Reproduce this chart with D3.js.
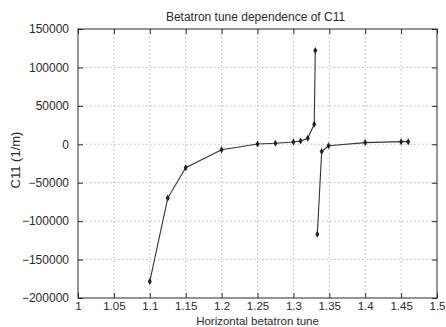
<!DOCTYPE html>
<html>
<head>
<meta charset="utf-8">
<script src="https://cdn.jsdelivr.net/npm/d3@7"></script>
<style>
  html, body { margin: 0; padding: 0; background: #fff; }
</style>
</head>
<body>
<div id="chart"></div>
<script>
// Two branches of the curve, either side of the resonance
const branchLeftX = [1.1, 1.125, 1.15, 1.2, 1.25, 1.275, 1.3, 1.31, 1.32, 1.329, 1.3305];
const branchLeftY = [-178500, -70000, -30500, -7000, 300, 1300, 3000, 4300, 7800, 26000, 122000];
const branchRightX = [1.3333, 1.3394, 1.349, 1.4, 1.45, 1.46];
const branchRightY = [-117000, -9500, -2000, 2200, 3400, 3400];

const xTicks = [1, 1.05, 1.1, 1.15, 1.2, 1.25, 1.3, 1.35, 1.4, 1.45, 1.5];
const yTicks = [-200000, -150000, -100000, -50000, 0, 50000, 100000, 150000];

const width = 446, height = 327;
const margin = { top: 29, right: 9, bottom: 29, left: 78 };
const innerW = width - margin.left - margin.right;
const innerH = height - margin.top - margin.bottom;

const svg = d3.select('#chart').append('svg')
    .attr('width', width)
    .attr('height', height)
    .style('font-family', 'Liberation Sans, Arial, sans-serif');

const x = d3.scaleLinear().domain([1, 1.5]).range([margin.left, margin.left + innerW]);
const y = d3.scaleLinear().domain([-200000, 150000]).range([margin.top + innerH, margin.top]);

const ink = '#2a2a2a';

// grid
svg.append('g').selectAll('line')
    .data(xTicks.slice(1, -1))
    .enter().append('line')
    .attr('x1', d => x(d)).attr('x2', d => x(d))
    .attr('y1', margin.top).attr('y2', margin.top + innerH)
    .attr('stroke', '#999').attr('stroke-width', 0.7)
    .attr('stroke-dasharray', '1.5,2.5');

svg.append('g').selectAll('line')
    .data(yTicks.slice(1, -1))
    .enter().append('line')
    .attr('x1', margin.left).attr('x2', margin.left + innerW)
    .attr('y1', d => y(d)).attr('y2', d => y(d))
    .attr('stroke', '#999').attr('stroke-width', 0.7)
    .attr('stroke-dasharray', '1.5,2.5');

// axes with inward ticks, mirrored on top and right
const fmtX = d => String(+d.toFixed(2));
const bottomAxis = d3.axisBottom(x).tickValues(xTicks).tickSize(-5).tickPadding(4).tickFormat(fmtX);
const topAxis = d3.axisTop(x).tickValues(xTicks).tickSize(-5).tickFormat('');
const leftAxis = d3.axisLeft(y).tickValues(yTicks).tickSize(-5).tickPadding(9).tickFormat(d3.format('d'));
const rightAxis = d3.axisRight(y).tickValues(yTicks).tickSize(-5).tickFormat('');

function styleAxis(g, size) {
    g.select('.domain').remove();
    g.selectAll('.tick line').attr('stroke', ink);
    g.selectAll('.tick text').attr('fill', ink).style('font-size', size);
}

svg.append('g').attr('transform', `translate(0,${margin.top + innerH})`).call(bottomAxis).call(styleAxis, '11.5px');
svg.append('g').attr('transform', `translate(0,${margin.top})`).call(topAxis).call(styleAxis, '12px');
svg.append('g').attr('transform', `translate(${margin.left},0)`).call(leftAxis).call(styleAxis, '12px');
svg.append('g').attr('transform', `translate(${margin.left + innerW},0)`).call(rightAxis).call(styleAxis, '12px');

// border
svg.append('rect')
    .attr('x', margin.left).attr('y', margin.top)
    .attr('width', innerW).attr('height', innerH)
    .attr('fill', 'none').attr('stroke', ink).attr('stroke-width', 1);

// data
const branches = [
    branchLeftX.map((v, i) => [v, branchLeftY[i]]),
    branchRightX.map((v, i) => [v, branchRightY[i]])
];

const line = d3.line().x(d => x(d[0])).y(d => y(d[1]));

svg.append('g').selectAll('path')
    .data(branches)
    .enter().append('path')
    .attr('d', line)
    .attr('fill', 'none')
    .attr('stroke', '#333')
    .attr('stroke-width', 1.1);

const symbol = d3.symbol().type(d3.symbolDiamond).size(14);
svg.append('g').selectAll('path')
    .data(branches.flat())
    .enter().append('path')
    .attr('d', symbol)
    .attr('transform', d => `translate(${x(d[0])},${y(d[1])})`)
    .attr('fill', '#222');

// labels
svg.append('text')
    .attr('x', margin.left + innerW / 2 - 2)
    .attr('y', 21)
    .attr('text-anchor', 'middle')
    .attr('fill', ink)
    .style('font-size', '12px')
    .text('Betatron tune dependence of C11');

svg.append('text')
    .attr('x', margin.left + innerW / 2)
    .attr('y', 324.5)
    .attr('text-anchor', 'middle')
    .attr('fill', ink)
    .style('font-size', '11.5px')
    .text('Horizontal betatron tune');

svg.append('text')
    .attr('transform', `translate(20,160) rotate(-90)`)
    .attr('text-anchor', 'middle')
    .attr('fill', ink)
    .style('font-size', '13px')
    .text('C11 (1/m)');
</script>
</body>
</html>
